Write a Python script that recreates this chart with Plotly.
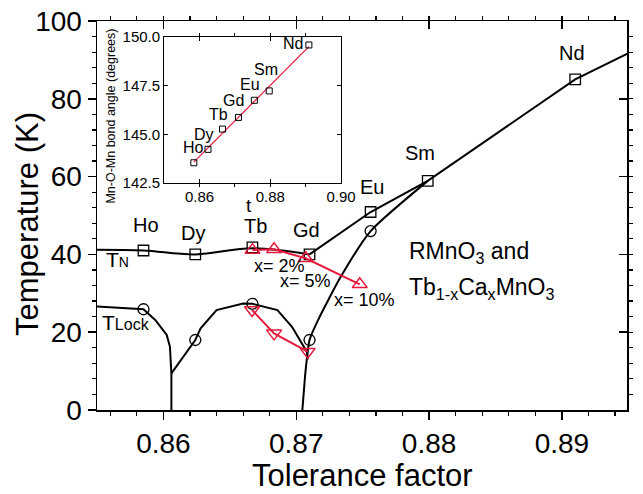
import numpy as np
import plotly.graph_objects as go

# ---------------- data ----------------
elements = ["Ho", "Dy", "Tb", "Gd", "Eu", "Sm", "Nd"]
t_factor = [0.8585, 0.8624, 0.8667, 0.8710, 0.8756, 0.8799, 0.8910]
T_N = [41.0, 40.0, 41.8, 40.0, 50.9, 58.9, 85.0]

lock_t = [0.8585, 0.8624, 0.8667, 0.8710, 0.8756]
T_lock = [25.9, 18.0, 27.3, 18.0, 46.0]

# Tb1-xCaxMnO3 (x = 0, 2, 5, 10 %)
ca_t_N = [0.8667, 0.86833, 0.87071, 0.87478]
ca_T_N = [41.1, 41.3, 39.0, 32.3]
ca_t_lock = [0.86667, 0.86833, 0.87086]
ca_T_lock = [25.7, 19.7, 15.0]
ca_labels = ["x= 2%", "x= 5%", "x= 10%"]

# guide-to-the-eye lines
tn_guide1_t = [0.8550, 0.8585, 0.8624, 0.8667, 0.8710]
tn_guide1_T = [41.2, 41.0, 40.0, 41.6, 40.0]
tn_guide2_t = [0.8710, 0.8756, 0.8799, 0.8910, 0.8950]
tn_guide2_T = [40.0, 50.9, 58.9, 85.0, 91.7]

lock_left_t = [0.8550, 0.8585, 0.8594, 0.86025, 0.86049, 0.8606, 0.8606]
lock_left_T = [26.6, 25.9, 23.1, 19.3, 16.3, 9.4, 0.0]
dome_t = [0.8606, 0.8624, 0.8628, 0.8640, 0.8660, 0.8667, 0.86858, 0.86968, 0.87079, 0.87088]
dome_T = [9.4, 18.0, 21.0, 25.7, 27.4, 27.3, 25.7, 21.4, 15.0, 13.0]
right_t = [0.87046, 0.87066, 0.87079, 0.8710, 0.87164, 0.87336, 0.8756, 0.8799]
right_T = [0.0, 8.6, 12.9, 18.0, 23.1, 34.3, 46.0, 58.9]

# inset: Mn-O-Mn bond angle vs t
inset_t = [0.8584, 0.8624, 0.8665, 0.8710, 0.8755, 0.8797, 0.8909]
inset_angle = [143.54, 144.23, 145.27, 145.87, 146.75, 147.23, 149.59]

# ---------------- styling ----------------
FONT = "Liberation Sans, Arial, sans-serif"
RED = "#E31A3C"
BLACK = "black"
W, H = 643, 494
L, R, T, B = 97, 1, 21, 84
pw, ph = W - L - R, H - T - B


def px(xp):
    return (xp - L) / pw


def py(yp):
    return (H - B - yp) / ph


fig = go.Figure()

line_style = dict(color=BLACK, width=2)
fig.add_trace(go.Scatter(x=tn_guide1_t, y=tn_guide1_T, mode="lines",
                         line=dict(color=BLACK, width=2, shape="spline", smoothing=1.0)))
fig.add_trace(go.Scatter(x=tn_guide2_t, y=tn_guide2_T, mode="lines", line=line_style))
fig.add_trace(go.Scatter(x=lock_left_t, y=lock_left_T, mode="lines", line=line_style))
fig.add_trace(go.Scatter(x=dome_t, y=dome_T, mode="lines", line=line_style))
fig.add_trace(go.Scatter(x=right_t, y=right_T, mode="lines",
                         line=dict(color=BLACK, width=2, shape="spline", smoothing=0.6)))

fig.add_trace(go.Scatter(x=t_factor, y=T_N, mode="markers",
                         marker=dict(symbol="square-open", size=10.5, color=BLACK,
                                     line=dict(width=1.3, color=BLACK))))
fig.add_trace(go.Scatter(x=lock_t, y=T_lock, mode="markers",
                         marker=dict(symbol="circle-open", size=11, color=BLACK,
                                     line=dict(width=1.3, color=BLACK))))

# red series on overlaid (matching) axes
fig.add_trace(go.Scatter(x=ca_t_N, y=ca_T_N, mode="lines+markers", xaxis="x2", yaxis="y2",
                         line=dict(color=RED, width=2),
                         marker=dict(symbol="triangle-up-open", size=13, color=RED,
                                     line=dict(width=1.5, color=RED))))
fig.add_trace(go.Scatter(x=ca_t_lock, y=ca_T_lock, mode="lines+markers", xaxis="x2", yaxis="y2",
                         line=dict(color=RED, width=2),
                         marker=dict(symbol="triangle-down-open", size=13, color=RED,
                                     line=dict(width=1.5, color=RED))))

# inset
coef = np.polyfit(inset_t, inset_angle, 1)
fit_t = [min(inset_t), max(inset_t)]
fig.add_trace(go.Scatter(x=fit_t, y=list(np.polyval(coef, fit_t)), mode="lines",
                         xaxis="x3", yaxis="y3", line=dict(color=RED, width=1.2)))
fig.add_trace(go.Scatter(x=inset_t, y=inset_angle, mode="markers", xaxis="x3", yaxis="y3",
                         marker=dict(symbol="square-open", size=6, color=BLACK,
                                     line=dict(width=1, color=BLACK))))

annotations = []
# element labels in main plot
main_shift = {"Ho": (3, 26), "Dy": (-2, 21), "Tb": (3, 21), "Gd": (-3, 24),
              "Eu": (1, 25), "Sm": (-8, 28), "Nd": (-3, 26)}
for el, xv, yv in zip(elements, t_factor, T_N):
    dx, dy = main_shift[el]
    annotations.append(dict(x=xv, y=yv, xref="x", yref="y", text=el, showarrow=False,
                            xshift=dx, yshift=dy, font=dict(family=FONT, size=20, color=BLACK)))
# doping labels
ca_shift = [(5, -17), (0, -23), (5, -16)]
for lab, xv, yv, (dx, dy) in zip(ca_labels, ca_t_N[1:], ca_T_N[1:], ca_shift):
    annotations.append(dict(x=xv, y=yv, xref="x", yref="y", text=lab, showarrow=False,
                            xshift=dx, yshift=dy, font=dict(family=FONT, size=18, color=BLACK)))
# inset element labels
inset_shift = {"Ho": (0, 15), "Dy": (-4, 15), "Tb": (-4, 15), "Gd": (-5, 17),
               "Eu": (-4, 16), "Sm": (-3, 21), "Nd": (-16, 1)}
for el, xv, yv in zip(elements, inset_t, inset_angle):
    dx, dy = inset_shift[el]
    annotations.append(dict(x=xv, y=yv, xref="x3", yref="y3", text=el, showarrow=False,
                            xshift=dx, yshift=dy, font=dict(family=FONT, size=16, color=BLACK)))

annotations += [
    dict(x=px(104), y=py(259), xref="paper", yref="paper", xanchor="left", yanchor="middle",
         text="T<span style='font-size:14px'>N</span>", showarrow=False,
         font=dict(family=FONT, size=21, color=BLACK)),
    dict(x=px(100), y=py(322), xref="paper", yref="paper", xanchor="left", yanchor="middle",
         text="T<span style='font-size:16px'>Lock</span>", showarrow=False,
         font=dict(family=FONT, size=21, color=BLACK)),
    dict(x=px(416), y=py(252), xref="paper", yref="paper", xanchor="left", yanchor="middle",
         text="RMnO<sub>3</sub> and", showarrow=False,
         font=dict(family=FONT, size=23, color=BLACK)),
    dict(x=px(416), y=py(288), xref="paper", yref="paper", xanchor="left", yanchor="middle",
         text="Tb<sub>1-x</sub>Ca<sub>x</sub>MnO<sub>3</sub>", showarrow=False,
         font=dict(family=FONT, size=23, color=BLACK)),
    dict(x=px(370), y=py(475), xref="paper", yref="paper", xanchor="center", yanchor="middle",
         text="Tolerance factor", showarrow=False,
         font=dict(family=FONT, size=31, color=BLACK)),
    dict(x=px(26), y=py(224), xref="paper", yref="paper", xanchor="center", yanchor="middle",
         text="Temperature (K)", textangle=-90, showarrow=False,
         font=dict(family=FONT, size=31, color=BLACK)),
    dict(x=px(253), y=py(205), xref="paper", yref="paper", xanchor="center", yanchor="middle",
         text="t", showarrow=False, font=dict(family=FONT, size=19, color=BLACK)),
    dict(x=px(111), y=py(116), xref="paper", yref="paper", xanchor="center", yanchor="middle",
         text="Mn-O-Mn bond angle (degrees)", textangle=-90, showarrow=False,
         font=dict(family=FONT, size=12.5, color=BLACK)),
]

common_x = dict(range=[0.855, 0.8949], tick0=0.86, dtick=0.01, ticklen=8, tickwidth=1.5,
                tickcolor=BLACK, showline=True, linewidth=1.5, linecolor=BLACK,
                showgrid=False, zeroline=False,
                minor=dict(dtick=0.002, tick0=0.86, ticklen=4, tickwidth=1.2, tickcolor=BLACK))
common_y = dict(range=[0, 100], tick0=0, dtick=20, ticklen=8, tickwidth=1.5,
                tickcolor=BLACK, showline=True, linewidth=1.5, linecolor=BLACK,
                showgrid=False, zeroline=False,
                minor=dict(dtick=4, tick0=0, ticklen=4, tickwidth=1.2, tickcolor=BLACK))

fig.update_layout(
    width=W, height=H, autosize=False,
    margin=dict(l=L, r=R, t=T, b=B, pad=0),
    paper_bgcolor="white", plot_bgcolor="rgba(0,0,0,0)",
    showlegend=False,
    font=dict(family=FONT, color=BLACK),
    xaxis=dict(**common_x, ticks="outside", side="bottom", tickformat=".2f",
               tickfont=dict(family=FONT, size=28, color=BLACK)),
    yaxis=dict(**common_y, ticks="outside", side="left",
               tickfont=dict(family=FONT, size=28, color=BLACK)),
    xaxis2=dict(**common_x, ticks="inside", side="top", overlaying="x", matches="x",
                showticklabels=False),
    yaxis2=dict(**common_y, ticks="inside", side="right", overlaying="y", matches="y",
                showticklabels=False),
    xaxis3=dict(domain=[px(166), px(348)], anchor="y3", range=[0.85, 0.90],
                tick0=0.86, dtick=0.02, tickformat=".2f", ticks="inside", ticklen=4,
                tickwidth=1, tickcolor=BLACK, mirror="ticks", showline=True, linewidth=1,
                linecolor=BLACK, showgrid=False, zeroline=False,
                minor=dict(dtick=0.01, tick0=0.85, ticklen=3, tickwidth=1, tickcolor=BLACK),
                tickfont=dict(family=FONT, size=15, color=BLACK)),
    yaxis3=dict(domain=[py(183), py(37)], anchor="x3", range=[142.5, 150.0],
                tick0=142.5, dtick=2.5, tickformat=".1f", ticks="inside", ticklen=4,
                tickwidth=1, tickcolor=BLACK, mirror="ticks", showline=True, linewidth=1,
                linecolor=BLACK, showgrid=False, zeroline=False,
                tickfont=dict(family=FONT, size=15, color=BLACK)),
    annotations=annotations,
)

page_fix = ("document.documentElement.style.overflow='hidden';"
            "document.body.style.margin='0';document.body.style.overflow='hidden';")
fig.write_html("out.html",
               config={"displayModeBar": False, "responsive": False, "staticPlot": True},
               post_script=page_fix)
